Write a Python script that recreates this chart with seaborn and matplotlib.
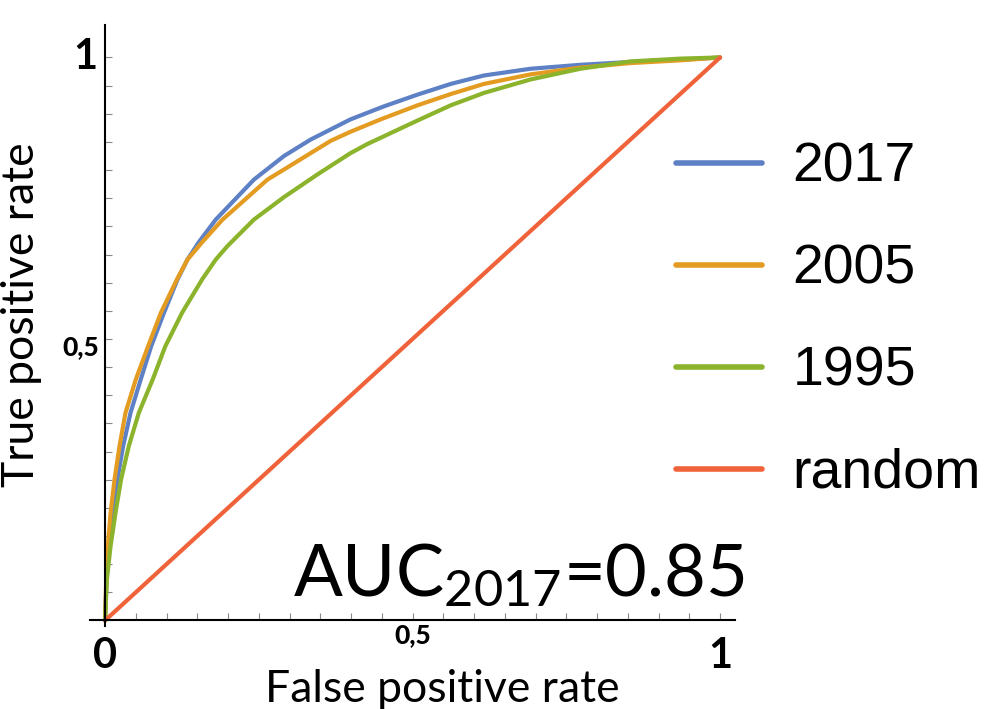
import numpy as np
import pandas as pd
import matplotlib
matplotlib.use('Agg')
import matplotlib.pyplot as plt
import seaborn as sns

# ROC curve points
fpr_2017 = [0, 0.0025, 0.0062, 0.012, 0.020, 0.0295, 0.0415, 0.058, 0.075, 0.096,
            0.118, 0.134, 0.1525, 0.180, 0.242, 0.291, 0.334, 0.399, 0.453, 0.508, 0.562,
            0.616, 0.692, 0.773, 0.854, 0.936, 1.0]
tpr_2017 = [0, 0.073, 0.132, 0.191, 0.25, 0.31, 0.369, 0.428, 0.487, 0.547,
            0.606, 0.641, 0.672, 0.712, 0.783, 0.825, 0.854, 0.890, 0.913, 0.934, 0.953,
            0.968, 0.980, 0.987, 0.992, 0.996, 1.0]

fpr_2005 = [0, 0.002, 0.0046, 0.009, 0.0154, 0.0236, 0.0333, 0.050, 0.070, 0.091,
            0.117, 0.134, 0.158, 0.191, 0.264, 0.291, 0.367, 0.399, 0.448, 0.508, 0.562,
            0.616, 0.692, 0.773, 0.854, 0.936, 1.0]
tpr_2005 = [0, 0.073, 0.132, 0.191, 0.25, 0.31, 0.369, 0.428, 0.487, 0.547,
            0.606, 0.641, 0.672, 0.712, 0.783, 0.801, 0.852, 0.868, 0.890, 0.915, 0.935,
            0.953, 0.970, 0.982, 0.990, 0.995, 1.0]

fpr_1995 = [0, 0.003, 0.009, 0.017, 0.026, 0.0387, 0.055, 0.0775, 0.098, 0.1255,
            0.158, 0.180, 0.199, 0.242, 0.291, 0.318, 0.345, 0.399, 0.426, 0.508, 0.562,
            0.616, 0.692, 0.773, 0.854, 0.936, 1.0]
tpr_1995 = [0, 0.073, 0.132, 0.191, 0.25, 0.31, 0.369, 0.428, 0.487, 0.547,
            0.606, 0.641, 0.665, 0.712, 0.752, 0.772, 0.792, 0.830, 0.846, 0.888, 0.915,
            0.937, 0.961, 0.980, 0.993, 0.998, 1.0]

fpr_random = [0, 1]
tpr_random = [0, 1]

series_names = ['2017', '2005', '1995', 'random']
series_colors = ['#5E81C5', '#E39C21', '#8CB32C', '#F0633A']

frames = []
for name, xs, ys in zip(series_names,
                        [fpr_2017, fpr_2005, fpr_1995, fpr_random],
                        [tpr_2017, tpr_2005, tpr_1995, tpr_random]):
    frames.append(pd.DataFrame({'fpr': xs, 'tpr': ys, 'series': name}))
df = pd.concat(frames, ignore_index=True)

sns.set_theme(style='white')
plt.rcParams['font.family'] = ['Lato', 'DejaVu Sans']
plt.rcParams['mathtext.fontset'] = 'custom'
plt.rcParams['mathtext.rm'] = 'Lato'
plt.rcParams['text.color'] = 'black'

fig = plt.figure(figsize=(10.05, 7.09), dpi=100)
ax = fig.add_axes([0.0892, 0.1169, 0.6426, 0.8473])

sns.lineplot(data=df, x='fpr', y='tpr', hue='series', hue_order=series_names,
             palette=dict(zip(series_names, series_colors)), estimator=None,
             sort=False, linewidth=3.0, legend=False, ax=ax)
for line in ax.get_lines():
    line.set_solid_joinstyle('round')

ax.set_xlim(-0.025, 1.025)
ax.set_ylim(-0.01, 1.057)
for side in ['top', 'right']:
    ax.spines[side].set_visible(False)
ax.spines['left'].set_position(('data', 0))
ax.spines['bottom'].set_position(('data', 0))
for side in ['left', 'bottom']:
    ax.spines[side].set_color('black')
    ax.spines[side].set_linewidth(1.5)

ticks = np.arange(0, 1.0001, 0.05)
ax.set_xticks(ticks)
ax.set_yticks(ticks)
ax.set_xticklabels([])
ax.set_yticklabels([])
ax.tick_params(axis='both', direction='in', length=5, width=0.8, color='#888888',
               left=True, bottom=True)
ax.set_xlabel('')
ax.set_ylabel('')

# tick labels of different sizes, as in the reference
ax.text(0, -0.03, '0', ha='center', va='top', fontsize=30, fontweight='bold')
ax.text(0.5, -0.005, '0,5', ha='center', va='top', fontsize=19, fontweight='black')
ax.text(1.0, -0.03, '1', ha='center', va='top', fontsize=30, fontweight='bold')
ax.text(-0.012, 1.0, '1', ha='right', va='center', fontsize=30, fontweight='bold')
ax.text(-0.01, 0.485, '0,5', ha='right', va='center', fontsize=19, fontweight='black')

fig.text(442 / 1005, 1 - 689 / 709, 'False positive rate', ha='center', va='center',
         fontsize=32)
fig.text(22 / 1005, 1 - 315 / 709, 'True positive rate', ha='center', va='center',
         rotation=90, fontsize=32)

ax.text(745 / 1005, 1 - 596 / 709, r'$\mathregular{AUC_{2017}}$=0.85',
        transform=fig.transFigure, ha='right', va='baseline', fontsize=52)

handles = ax.get_lines()[:4]
leg = fig.legend(handles, series_names, loc='center left',
                 bbox_to_anchor=(676 / 1005, 1 - 321 / 709), frameon=False,
                 handlelength=1.55, handletextpad=0.55, labelspacing=0.9,
                 borderpad=0, borderaxespad=0,
                 prop={'family': 'Liberation Sans', 'size': 40})
for line in leg.get_lines():
    line.set_linewidth(4)
for t in leg.get_texts():
    t.set_color('black')

plt.savefig('out.png', dpi=100)
